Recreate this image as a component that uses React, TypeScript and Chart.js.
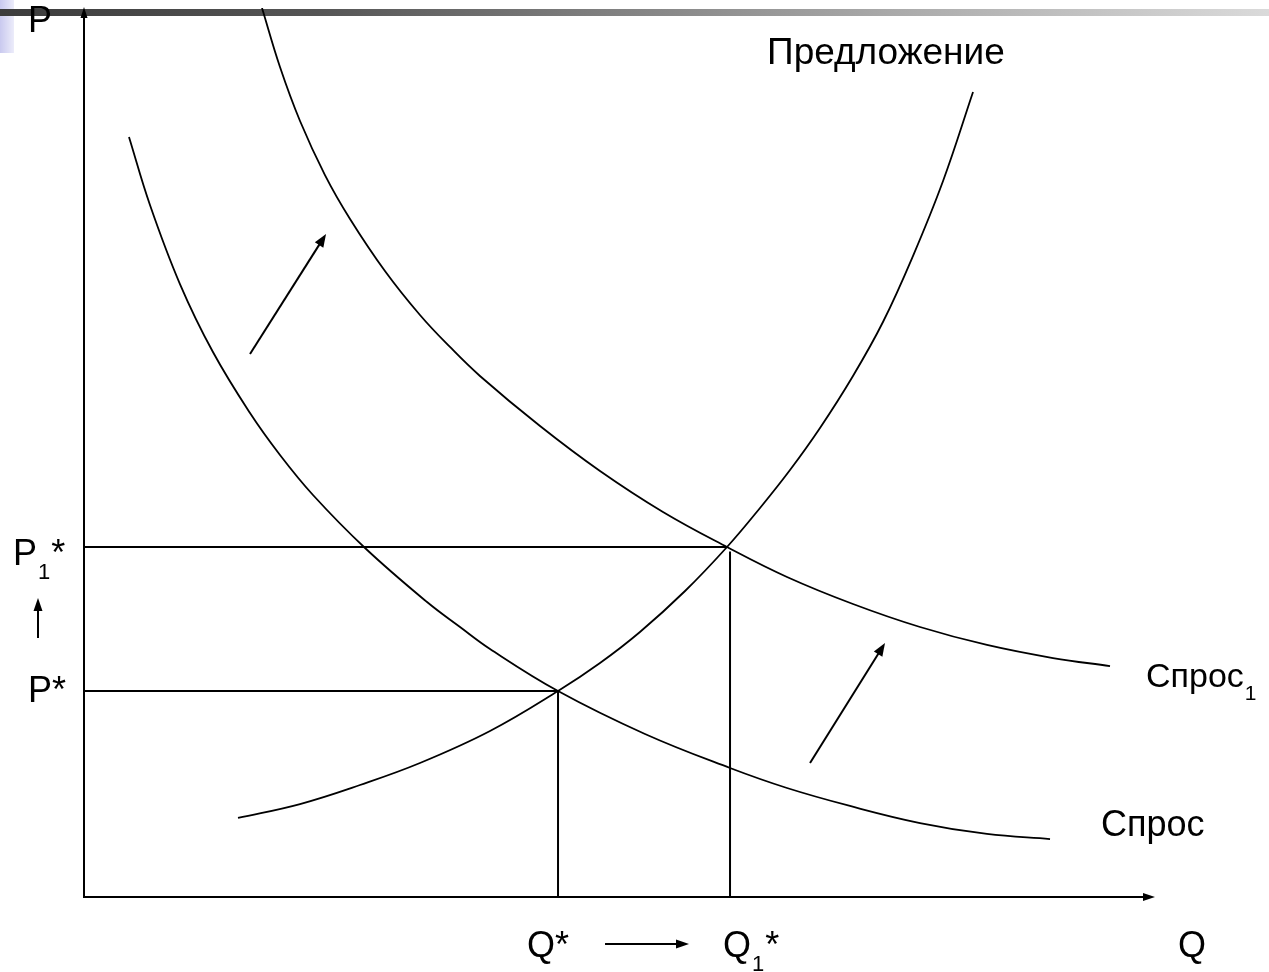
import React, { useEffect, useRef } from "react";
import { Chart, registerables } from "chart.js";

Chart.register(...registerables);

// ---- data (Q and P in arbitrary units, 0..100) ----
const supplyQ = [14.38, 20.17, 25.77, 31.37, 37.91, 44.26, 48.18, 51.91, 56.12, 60.04, 63.12, 65.92, 68.72, 71.8, 74.6, 77.4, 80.21, 83.01];
const supplyP = [8.89, 10.46, 12.6, 15.07, 18.67, 23.17, 26.32, 29.81, 34.42, 39.37, 43.76, 48.03, 52.76, 58.61, 64.68, 72.1, 80.54, 90.55];

const demandQ = [4.2, 6.16, 8.96, 12.04, 15.5, 18.3, 21.38, 26.24, 32.03, 35.11, 37.91, 44.26, 52.38, 60.32, 65.64, 71.52, 78.06, 84.31, 90.2];
const demandP = [85.49, 77.84, 68.95, 61.3, 54.44, 49.72, 45.22, 39.26, 33.18, 30.37, 27.9, 23.17, 18.34, 14.51, 12.26, 10.24, 8.32, 7.09, 6.52];

const demand1Q = [16.62, 18.3, 20.17, 22.5, 24.84, 28.1, 31.37, 34.17, 36.97, 42.58, 48.18, 54.06, 60.04, 65.64, 71.8, 78.06, 84.31, 90.48, 95.8];
const demand1P = [100.0, 93.36, 87.29, 81.21, 76.27, 70.42, 65.47, 61.87, 58.61, 52.98, 47.92, 43.31, 39.37, 36.0, 32.96, 30.37, 28.35, 26.88, 25.98];

// equilibrium before / after the demand shift
const equilibriumQ = [44.26, 60.04];
const equilibriumP = [23.17, 39.37];
const guideQ = [44.26, 60.32]; // vertical drop lines to the Q axis

// shift arrows (from -> to)
const shiftFromQ = [15.5, 67.79];
const shiftFromP = [61.08, 15.07];
const shiftToQ = [22.6, 74.79];
const shiftToP = [74.58, 28.57];

// text
const axisLabelP = "P";
const axisLabelQ = "Q";
const supplyLabel = "Предложение";
const demandLabel = "Спрос";
const demand1Label = "Спрос";
const subscriptOne = "1";
const star = "*";

const FONT = "'Liberation Sans', Arial, Helvetica, sans-serif";

function pts(xs: number[], ys: number[]) {
  return xs.map((x, i) => ({ x, y: ys[i] }));
}

function arrow(ctx: CanvasRenderingContext2D, x1: number, y1: number, x2: number, y2: number, len: number, half: number, lw: number) {
  const a = Math.atan2(y2 - y1, x2 - x1);
  const bx = x2 - len * Math.cos(a);
  const by = y2 - len * Math.sin(a);
  ctx.lineWidth = lw;
  ctx.beginPath();
  ctx.moveTo(x1, y1);
  ctx.lineTo(bx + Math.cos(a) * 1, by + Math.sin(a) * 1);
  ctx.stroke();
  ctx.beginPath();
  ctx.moveTo(x2, y2);
  ctx.lineTo(bx + half * Math.sin(a), by - half * Math.cos(a));
  ctx.lineTo(bx - half * Math.sin(a), by + half * Math.cos(a));
  ctx.closePath();
  ctx.fill();
}

function subText(ctx: CanvasRenderingContext2D, x: number, y: number, main: string, size: number, sub: string, tail: string) {
  ctx.font = `${size}px ${FONT}`;
  ctx.fillText(main, x, y);
  let cx = x + ctx.measureText(main).width;
  if (sub) {
    const ss = Math.round(size * 0.62);
    ctx.font = `${ss}px ${FONT}`;
    ctx.fillText(sub, cx + 1, y + Math.round(size * 0.38));
    cx += ctx.measureText(sub).width + 2;
  }
  if (tail) {
    ctx.font = `${size}px ${FONT}`;
    ctx.fillText(tail, cx, y);
  }
}

const decorPlugin = {
  id: "decor",
  beforeDraw(chart: any) {
    const ctx: CanvasRenderingContext2D = chart.ctx;
    const w = chart.width;
    ctx.save();
    const lg = ctx.createLinearGradient(0, 0, 14, 0);
    lg.addColorStop(0, "#c9c9ef");
    lg.addColorStop(1, "#ececfa");
    ctx.fillStyle = lg;
    ctx.fillRect(0, 0, 14, 53);
    const g = ctx.createLinearGradient(0, 0, w, 0);
    g.addColorStop(0, "#3c3c3c");
    g.addColorStop(0.25, "#555555");
    g.addColorStop(0.7, "#a9a9a9");
    g.addColorStop(1, "#dadada");
    ctx.fillStyle = g;
    ctx.fillRect(0, 9, w, 7);
    ctx.restore();
  },
  afterDraw(chart: any) {
    const ctx: CanvasRenderingContext2D = chart.ctx;
    const xs = chart.scales.x;
    const ys = chart.scales.y;
    const area = chart.chartArea;
    const X = (v: number) => xs.getPixelForValue(v);
    const Y = (v: number) => ys.getPixelForValue(v);
    ctx.save();
    ctx.strokeStyle = "#000";
    ctx.fillStyle = "#000";
    ctx.lineCap = "butt";

    const ox = X(0);
    const oy = Y(0);
    // axes
    arrow(ctx, ox, oy + 1, ox, area.top - 1, 11, 3.5, 2);
    arrow(ctx, ox - 1, oy, area.right, oy, 12, 4, 2);

    // shift arrows
    for (let i = 0; i < shiftFromQ.length; i++) {
      arrow(ctx, X(shiftFromQ[i]), Y(shiftFromP[i]), X(shiftToQ[i]), Y(shiftToP[i]), 13, 5, 2);
    }

    // P rise arrow and Q rise arrow (beside axis labels)
    const pArrowX = ox - 46;
    arrow(ctx, pArrowX, Y(equilibriumP[0]) - 53, pArrowX, Y(equilibriumP[0]) - 93, 13, 4.5, 2);

    const qArrowY = oy + 47;
    arrow(ctx, X(equilibriumQ[0]) + 47, qArrowY, X(equilibriumQ[0]) + 131, qArrowY, 13, 4.5, 2);

    // texts
    ctx.textBaseline = "alphabetic";
    ctx.textAlign = "left";
    const fs = 36;
    subText(ctx, ox - 56, area.top + 24, axisLabelP, fs, "", "");
    subText(ctx, ox - 56, Y(equilibriumP[0]) + 11, "P", fs, "", star);
    subText(ctx, ox - 71, Y(equilibriumP[1]) + 18, "P", fs, subscriptOne, star);
    subText(ctx, X(guideQ[0]) - 31, oy + 60, "Q", fs, "", star);
    subText(ctx, X(guideQ[1]) - 7, oy + 60, "Q", fs, subscriptOne, star);
    subText(ctx, area.right + 23, oy + 60, axisLabelQ, fs, "", "");

    const sLast = supplyQ.length - 1;
    subText(ctx, X(supplyQ[sLast]) - 206, Y(supplyP[sLast]) - 28, supplyLabel, 37, "", "");
    const dLast = demandQ.length - 1;
    subText(ctx, X(demandQ[dLast]) + 51, Y(demandP[dLast]) - 3, demandLabel, 36, "", "");
    const d1Last = demand1Q.length - 1;
    subText(ctx, X(demand1Q[d1Last]) + 36, Y(demand1P[d1Last]) + 21, demand1Label, 34, subscriptOne, "");
    ctx.restore();
  },
};

export default function App() {
  const ref = useRef<HTMLCanvasElement | null>(null);
  useEffect(() => {
    if (!ref.current) return;
    const curve = { borderColor: "#000", borderWidth: 1.8, pointRadius: 0, showLine: true, tension: 0.4, fill: false };
    const guide = { borderColor: "#000", borderWidth: 2, pointRadius: 0, showLine: true, tension: 0, fill: false };
    const chart = new Chart(ref.current, {
      type: "scatter",
      data: {
        datasets: [
          { label: supplyLabel, data: pts(supplyQ, supplyP), ...curve },
          { label: demandLabel, data: pts(demandQ, demandP), ...curve },
          { label: demand1Label + subscriptOne, data: pts(demand1Q, demand1P), ...curve },
          { label: "P*", data: [{ x: 0, y: equilibriumP[0] }, { x: equilibriumQ[0], y: equilibriumP[0] }], ...guide },
          { label: "Q*", data: [{ x: guideQ[0], y: equilibriumP[0] }, { x: guideQ[0], y: 0 }], ...guide },
          { label: "P1*", data: [{ x: 0, y: equilibriumP[1] }, { x: equilibriumQ[1], y: equilibriumP[1] }], ...guide },
          { label: "Q1*", data: [{ x: guideQ[1], y: equilibriumP[1] - 0.5 }, { x: guideQ[1], y: 0 }], ...guide },
        ],
      },
      options: {
        animation: false,
        responsive: false,
        maintainAspectRatio: false,
        devicePixelRatio: 1,
        layout: { padding: { left: 84, top: 8, right: 114, bottom: 75 } },
        plugins: { legend: { display: false }, tooltip: { enabled: false }, title: { display: false } },
        events: [],
        scales: {
          x: { type: "linear", min: 0, max: 100, display: false },
          y: { type: "linear", min: 0, max: 100, display: false },
        },
      },
      plugins: [decorPlugin],
    });
    return () => chart.destroy();
  }, []);
  return (
    <div style={{ position: "absolute", left: 0, top: 0, width: 1269, height: 972, background: "#fff" }}>
      <canvas ref={ref} width={1269} height={972} style={{ display: "block", width: 1269, height: 972 }} />
    </div>
  );
}
